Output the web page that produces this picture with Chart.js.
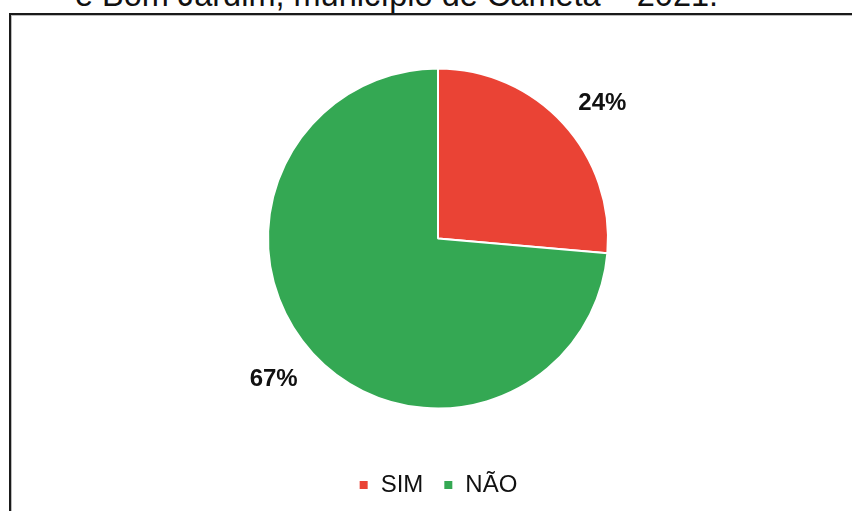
<!DOCTYPE html>
<html>
<head>
<meta charset="utf-8">
<script src="https://cdn.jsdelivr.net/npm/chart.js@4.4.1/dist/chart.umd.min.js"></script>
<style>
  html, body { margin: 0; padding: 0; background: #fff; width: 852px; height: 511px; overflow: hidden; }
  #title { position: absolute; left: 75px; top: -21px; font-family: "Liberation Sans", Arial, sans-serif; font-size: 32.5px; color: #111; white-space: nowrap; line-height: 32px; }
  #box { position: absolute; left: 9px; top: 13px; width: 900px; height: 600px; border-left: 2px solid #1a1a1a; border-top: 2px solid #1a1a1a; box-shadow: inset 1px 1px 0 #bbb; background: #fff; }
  #wrap { position: absolute; left: 12px; top: 16px; width: 840px; height: 495px; }
</style>
</head>
<body>
<div id="title">e Bom Jardim, município de Cametá – 2021.</div>
<div id="box"></div>
<div id="wrap"><canvas id="c"></canvas></div>
<script>
const categories = ["SIM", "NÃO"];
const values = [24, 67];
const colors = ["#EA4335", "#34A853"];

const outsideLabels = {
  id: 'outsideLabels',
  afterDatasetsDraw(chart) {
    const ctx = chart.ctx;
    const meta = chart.getDatasetMeta(0);
    ctx.save();
    ctx.font = 'bold 24px "Liberation Sans", Arial, sans-serif';
    ctx.fillStyle = '#111';
    ctx.textAlign = 'center';
    ctx.textBaseline = 'middle';
    meta.data.forEach((arc, i) => {
      const p = arc.getProps(['x', 'y', 'startAngle', 'endAngle', 'outerRadius'], true);
      const mid = (p.startAngle + p.endAngle) / 2;
      const r = p.outerRadius * 1.2;
      const cx = Math.cos(mid), sy = Math.sin(mid);
      ctx.fillText(values[i] + '%', p.x + cx * r + Math.sign(cx) * 14, p.y + sy * r + 3);
    });
    ctx.restore();
  }
};

new Chart(document.getElementById('c'), {
  type: 'pie',
  data: {
    labels: categories,
    datasets: [{
      data: values,
      backgroundColor: colors,
      borderColor: '#fff',
      borderWidth: 2,
      radius: 170
    }]
  },
  options: {
    responsive: true,
    maintainAspectRatio: false,
    animation: false,
    layout: { padding: { left: 12, right: 0, top: 8, bottom: 4 } },
    plugins: {
      tooltip: { enabled: false },
      legend: {
        position: 'bottom',
        labels: {
          boxWidth: 10,
          boxHeight: 10,
          padding: 20,
          color: '#111',
          font: { family: '"Liberation Sans", Arial, sans-serif', size: 24 }
        }
      }
    }
  },
  plugins: [outsideLabels]
});
</script>
</body>
</html>
